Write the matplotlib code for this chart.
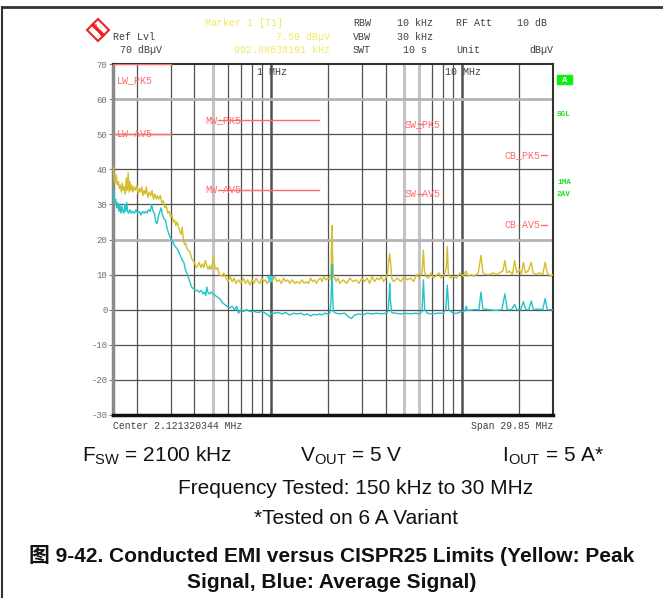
import matplotlib
matplotlib.use("Agg")
import matplotlib.pyplot as plt
from matplotlib.lines import Line2D
from matplotlib.patches import Polygon, Rectangle

plt.rcParams['axes.unicode_minus'] = False

# ---- data (MHz, dBuV) ----
peak_freq = [0.150, 0.152, 0.154, 0.156, 0.158, 0.160, 0.162, 0.164, 0.166, 0.168,
             0.170, 0.172, 0.174, 0.176, 0.178, 0.180, 0.182, 0.184, 0.186, 0.188,
             0.190, 0.193, 0.196, 0.200, 0.203, 0.206, 0.209, 0.212, 0.215, 0.218,
             0.221, 0.224, 0.228, 0.232, 0.236, 0.240, 0.244, 0.248, 0.252, 0.256,
             0.260, 0.265, 0.270, 0.275, 0.280, 0.285, 0.290, 0.295, 0.300, 0.305,
             0.310, 0.315, 0.320, 0.325, 0.330, 0.335, 0.340, 0.345, 0.350, 0.355,
             0.360, 0.365, 0.370, 0.378, 0.385, 0.392, 0.400, 0.408, 0.416, 0.424,
             0.432, 0.440, 0.448, 0.456, 0.464, 0.472, 0.480, 0.488, 0.496, 0.504,
             0.512, 0.520, 0.528, 0.540, 0.555, 0.570, 0.585, 0.600, 0.615, 0.630,
             0.645, 0.660, 0.680, 0.700, 0.720, 0.740, 0.760, 0.780, 0.800, 0.820,
             0.840, 0.860, 0.880, 0.900, 0.920, 0.940, 0.960, 0.980, 1.000, 1.020,
             1.050, 1.080, 1.110, 1.140, 1.170, 1.200, 1.230, 1.260, 1.300, 1.340,
             1.380, 1.420, 1.460, 1.500, 1.540, 1.580, 1.620, 1.660, 1.700, 1.740,
             1.780, 1.820, 1.860, 1.900, 1.950, 2.000, 2.040, 2.070, 2.090, 2.100,
             2.110, 2.130, 2.170, 2.200, 2.250, 2.300, 2.400, 2.500, 2.600, 2.700,
             2.800, 2.900, 3.000, 3.100, 3.200, 3.300, 3.400, 3.500, 3.600, 3.700,
             3.800, 3.900, 4.000, 4.100, 4.150, 4.200, 4.250, 4.300, 4.400, 4.600,
             4.800, 5.000, 5.200, 5.400, 5.600, 5.800, 6.000, 6.200, 6.300, 6.380,
             6.500, 6.700, 6.900, 7.100, 7.300, 7.600, 7.800, 8.100, 8.300, 8.400,
             8.500, 8.700, 9.000, 9.400, 9.800, 10.20, 10.50, 10.80, 11.20, 11.60,
             12.20, 12.60, 12.90, 13.40, 14.00, 14.60, 15.20, 15.80, 16.40, 16.80,
             17.20, 17.80, 18.40, 18.90, 19.40, 20.00, 20.50, 21.00, 21.50, 22.20,
             23.10, 23.60, 24.50, 25.50, 26.50, 27.30, 28.00, 29.00, 30.00]
peak_dbuv = [41.0, 37.5, 36.0, 38.5, 35.5, 36.5, 34.5, 35.5, 33.5, 36.0,
             34.0, 35.0, 33.0, 37.5, 34.0, 39.0, 33.5, 36.5, 34.0, 35.5,
             33.5, 35.0, 34.0, 35.5, 33.0, 34.5, 33.5, 35.0, 32.5, 34.0,
             33.0, 35.0, 32.0, 33.5, 32.5, 34.0, 31.5, 33.0, 31.5, 32.5,
             31.5, 32.5, 30.5, 31.0, 29.0, 29.5, 27.5, 28.0, 26.5, 27.0,
             25.0, 25.5, 24.0, 25.0, 23.5, 22.5, 21.5, 23.5, 20.0, 18.5,
             19.0, 17.5, 17.0, 16.5, 15.0, 14.0, 13.5, 12.0, 12.5, 13.5,
             12.0, 13.0, 12.0, 14.0, 12.5, 11.5, 12.5, 11.5, 13.0, 15.0,
             12.0, 11.5, 12.0, 10.0, 9.5, 10.5, 9.0, 8.0, 9.5, 8.0,
             9.0, 7.5, 8.5, 7.5, 9.0, 7.5, 8.5, 7.0, 8.5, 7.5,
             9.0, 8.0, 7.5, 9.0, 8.0, 8.5, 7.5, 8.0, 9.5, 8.0,
             9.5, 8.0, 8.5, 7.5, 9.0, 8.0, 8.5, 7.5, 8.5, 7.5,
             8.0, 7.5, 8.5, 7.5, 8.0, 7.5, 9.0, 8.0, 8.5, 7.5,
             8.5, 9.0, 8.0, 9.5, 8.5, 9.0, 8.5, 10.0, 22.0, 24.0,
             16.0, 9.5, 9.0, 8.0, 9.0, 7.5, 8.5, 7.5, 9.0, 8.0,
             8.5, 7.5, 9.0, 8.0, 9.0, 7.5, 9.5, 8.0, 9.0, 8.5,
             9.5, 8.0, 9.0, 10.5, 14.0, 16.0, 13.0, 9.0, 8.0, 9.0,
             8.0, 9.5, 8.5, 9.0, 8.0, 10.0, 9.0, 10.5, 17.0, 11.0,
             9.5, 9.0, 10.5, 9.0, 9.5, 10.5, 9.0, 10.0, 12.0, 18.0,
             10.5, 9.0, 9.5, 9.0, 10.5, 9.5, 11.0, 9.5, 10.0, 9.5,
             10.5, 15.5, 10.5, 10.0, 10.0, 10.5, 10.0, 10.5, 11.0, 14.0,
             10.5, 11.0, 10.0, 14.0, 10.5, 11.5, 10.0, 13.5, 10.5, 11.0,
             13.5, 10.5, 10.0, 10.5, 10.0, 13.5, 10.5, 9.5, 10.0]

avg_freq = [0.150, 0.151, 0.153, 0.155, 0.157, 0.159, 0.161, 0.163, 0.165, 0.167,
            0.169, 0.171, 0.173, 0.175, 0.177, 0.179, 0.181, 0.184, 0.187, 0.190,
            0.194, 0.198, 0.202, 0.206, 0.210, 0.214, 0.218, 0.222, 0.226, 0.230,
            0.235, 0.239, 0.243, 0.247, 0.251, 0.255, 0.259, 0.264, 0.268, 0.272,
            0.277, 0.282, 0.287, 0.292, 0.297, 0.302, 0.308, 0.313, 0.318, 0.323,
            0.328, 0.334, 0.340, 0.346, 0.352, 0.358, 0.364, 0.370, 0.378, 0.386,
            0.395, 0.404, 0.414, 0.424, 0.434, 0.444, 0.452, 0.458, 0.464, 0.470,
            0.478, 0.490, 0.503, 0.515, 0.530, 0.546, 0.560, 0.575, 0.590, 0.610,
            0.630, 0.650, 0.665, 0.680, 0.700, 0.720, 0.750, 0.780, 0.820, 0.860,
            0.900, 0.940, 0.970, 0.990, 1.010, 1.050, 1.100, 1.150, 1.200, 1.260,
            1.320, 1.380, 1.440, 1.500, 1.560, 1.620, 1.680, 1.740, 1.800, 1.860,
            1.920, 1.980, 2.040, 2.070, 2.090, 2.100, 2.110, 2.130, 2.200, 2.300,
            2.450, 2.550, 2.650, 2.750, 2.900, 3.050, 3.200, 3.400, 3.600, 3.800,
            4.000, 4.120, 4.180, 4.200, 4.230, 4.300, 4.500, 4.800, 5.100, 5.400,
            5.700, 6.000, 6.200, 6.300, 6.400, 6.600, 7.000, 7.500, 8.000, 8.250,
            8.400, 8.550, 9.000, 9.500, 10.00, 10.40, 10.55, 10.70, 11.50, 12.30,
            12.60, 12.90, 14.00, 15.00, 16.20, 16.80, 17.30, 18.20, 18.90, 19.40,
            20.30, 21.00, 21.60, 22.40, 23.10, 23.70, 25.00, 26.50, 27.30, 28.00,
            30.00]
avg_dbuv = [32.0, 34.0, 30.5, 31.5, 29.0, 30.5, 28.0, 30.0, 27.5, 29.5,
            28.0, 27.5, 30.0, 28.0, 30.5, 28.0, 27.5, 28.5, 27.5, 28.0,
            27.5, 28.5, 27.5, 28.0, 27.0, 28.0, 27.5, 28.0, 27.5, 28.5,
            28.0, 30.0, 28.0, 27.5, 25.0, 24.5, 26.5, 28.0, 29.0, 27.0,
            26.0, 25.5, 23.5, 22.0, 21.0, 20.0, 19.5, 18.5, 18.0, 17.5,
            17.0, 16.0, 15.0, 14.0, 13.5, 11.5, 10.5, 9.5, 8.0, 6.5,
            6.0, 5.5, 5.5, 5.0, 5.5, 4.5, 5.0, 4.0, 6.5, 5.0,
            4.5, 5.0, 4.5, 4.0, 3.5, 3.0, 2.0, 1.5, 1.0, 0.5,
            1.0, 0.0, 1.0, -1.0, 0.0, -0.5, 0.0, -0.5, -0.5, -0.8,
            -0.5, -1.0, -1.5, -2.0, -1.0, -1.0, -0.8, -1.2, -0.8, -1.5,
            -1.0, -1.2, -1.0, -1.5, -1.2, -1.8, -1.3, -1.5, -1.2, -1.5,
            -1.0, -1.2, -1.0, 2.0, 10.0, 13.0, 5.0, -0.5, -1.0, -1.2,
            -1.0, -2.0, -2.5, -1.5, -1.2, -1.5, -1.0, -1.2, -1.0, -1.2,
            -1.0, -0.5, 5.0, 7.5, 3.0, -0.8, -1.0, -1.2, -1.0, -1.2,
            -1.0, -1.2, -0.5, 8.5, 0.0, -1.0, -1.2, -1.0, -1.0, 0.0,
            7.0, 0.0, -1.0, -1.0, -0.5, -0.3, 1.0, -0.2, 0.0, 0.0,
            5.0, 0.2, 0.0, -0.2, 0.0, 4.5, 0.0, 0.0, 1.5, 0.0,
            0.0, 2.3, 0.0, 0.0, 2.5, 0.0, 0.2, 0.0, 3.2, 0.0,
            0.0]

# CISPR25 class 5 conducted limits
limit_names = ['LW_PK5', 'LW-AV5', 'MW_PK5', 'MW-AV5', 'SW_PK5', 'SW-AV5', 'CB_PK5', 'CB-AV5']
limit_start = [0.15, 0.15, 0.53, 0.53, 5.9, 5.9, 26.0, 26.0]
limit_stop = [0.30, 0.30, 1.8, 1.8, 6.2, 6.2, 28.0, 28.0]
limit_level = [70, 50, 54, 34, 53, 33, 44, 24]

marker_freq = 0.99288638191
marker_level = 7.5

grid_freqs = [0.2, 0.3, 0.4, 0.6, 0.7, 0.8, 0.9, 1, 2, 3, 4, 7, 8, 9, 10, 20]
grid_freqs_light = [0.5, 5, 6]
y_ticks = [70, 60, 50, 40, 30, 20, 10, 0, -10, -20, -30]

W, H = 663, 598
MONO = 'Liberation Mono'
DARK = '#404040'
YEL_TXT = '#eeea66'
GREEN = '#22dd22'

fig = plt.figure(figsize=(W / 100, H / 100), dpi=100)
ax = fig.add_axes([113 / W, 1 - 415 / H, 440 / W, 351 / H])


def ftext(x, y, s, **kw):
    kw.setdefault('va', 'center')
    return fig.text(x / W, 1 - y / H, s, **kw)


ax.set_xscale('log')
ax.set_xlim(0.15, 30)
ax.set_ylim(-30, 70)
ax.set_xticks([])
ax.xaxis.set_minor_locator(matplotlib.ticker.NullLocator())
ax.set_yticks(y_ticks)
ax.tick_params(axis='y', length=3, width=0.8, color='#808080', labelcolor='#707070',
               labelsize=6.5, pad=1)
for lab in ax.get_yticklabels():
    lab.set_family(MONO)

# grid
for f in grid_freqs:
    lw = 1.8 if f in (1, 10) else 0.9
    ax.axvline(f, color='#505050', lw=lw, zorder=1)
for f in grid_freqs_light:
    ax.axvline(f, color='#c4c4c4', lw=2.2, zorder=1)
for v in y_ticks[1:-1]:
    if v in (60, 20):
        ax.axhline(v, color='#b4b4b4', lw=2.0, zorder=1)
    else:
        ax.axhline(v, color='#505050', lw=0.9, zorder=1)

ax.text(0.85, 67.8, '1 MHz', family=MONO, fontsize=7.2, color=DARK, va='center', zorder=2)
ax.text(8.2, 67.8, '10 MHz', family=MONO, fontsize=7.2, color=DARK, va='center', zorder=2)

# limit lines with labels
label_x = [0.1565, 0.1565, 0.455, 0.455, 5.04, 5.04, 25.7, 25.7]
label_ha = ['left', 'left', 'left', 'left', 'left', 'left', 'right', 'right']
for i, name in enumerate(limit_names):
    ax.plot([limit_start[i], limit_stop[i]], [limit_level[i]] * 2, color='#ff6a6a', lw=1, zorder=3)
    ly = limit_level[i] if limit_level[i] < 70 else 65.5
    ax.text(label_x[i], ly, name, family=MONO, fontsize=7.2, color='#ff6a6a',
            ha=label_ha[i], va='center', zorder=3)

# traces
ax.plot(peak_freq, peak_dbuv, color='#d6bd2a', lw=1.0, zorder=4)
ax.plot(avg_freq, avg_dbuv, color='#22c4c8', lw=1.0, zorder=5)
ax.plot([marker_freq], [marker_level + 1.3], marker='v', color='#30d8e8', ms=5, zorder=6)

for side, c, w in (('left', '#8a8a8a', 2.5), ('bottom', '#111111', 2.5),
                   ('top', '#333333', 1.5), ('right', '#333333', 1.5)):
    ax.spines[side].set_color(c)
    ax.spines[side].set_linewidth(w)

# header block
ftext(205, 23, 'Marker 1 [T1]', family=MONO, fontsize=7.2, color=YEL_TXT)
ftext(330, 37, '7.50 dB\u00b5V', family=MONO, fontsize=7.2, color=YEL_TXT, ha='right')
ftext(330, 50, '992.88638191 kHz', family=MONO, fontsize=7.2, color=YEL_TXT, ha='right')
ftext(113, 37, 'Ref Lvl', family=MONO, fontsize=7.2, color=DARK)
ftext(120, 50, '70 dB\u00b5V', family=MONO, fontsize=7.2, color=DARK)
for x, y, s in ((353, 23, 'RBW'), (397, 23, '10 kHz'), (456, 23, 'RF Att'), (517, 23, '10 dB'),
                (353, 37, 'VBW'), (397, 37, '30 kHz'),
                (353, 50, 'SWT'), (403, 50, '10 s'), (456, 50, 'Unit')):
    ftext(x, y, s, family=MONO, fontsize=7.2, color=DARK)
ftext(553, 50, 'dB\u00b5V', family=MONO, fontsize=7.2, color=DARK, ha='right')

# R&S style logo
cx, cy, r = 98, 30, 11
fig.patches.append(Polygon([((cx) / W, 1 - (cy - r) / H), ((cx + r) / W, 1 - cy / H),
                            ((cx) / W, 1 - (cy + r) / H), ((cx - r) / W, 1 - cy / H)],
                           closed=True, facecolor='white', edgecolor='#ee2222', lw=1.5,
                           transform=fig.transFigure))
fig.lines.append(Line2D([(cx - 5) / W, (cx + 5) / W], [1 - (cy - 5) / H, 1 - (cy + 5) / H],
                        color='#ee2222', lw=2.5, transform=fig.transFigure))
ftext(cx - 3, cy - 4, 'R', family=MONO, fontsize=4, color='#ee2222', ha='center')
ftext(cx + 3, cy + 4, 'S', family=MONO, fontsize=4, color='#ee2222', ha='center')

# right-side status annotations
fig.patches.append(Rectangle((557 / W, 1 - 84 / H), 15 / W, 9 / H, color='#11ee11',
                             transform=fig.transFigure))
ftext(564.5, 79.5, 'A', family='DejaVu Sans', fontsize=5, color='white', weight='bold', ha='center')
for y, s in ((114, 'SGL'), (182, '1MA'), (194, '2AV')):
    ftext(557, y, s, family=MONO, fontsize=5.5, color=GREEN, weight='bold')

ftext(113, 426, 'Center 2.121320344 MHz', family=MONO, fontsize=7, color=DARK)
ftext(553, 426, 'Span 29.85 MHz', family=MONO, fontsize=7, color=DARK, ha='right')

# test conditions and caption
SANS = ['Liberation Sans', 'Noto Sans CJK SC']
ftext(82, 456, r'F$_\mathregular{SW}$ = 2100 kHz', family='Liberation Sans', fontsize=15, color='#111111')
ftext(300, 456, r'V$_\mathregular{OUT}$ = 5 V', family='Liberation Sans', fontsize=15, color='#111111')
ftext(502, 456, r'I$_\mathregular{OUT}$ = 5 A*', family='Liberation Sans', fontsize=15, color='#111111')
ftext(356, 488, 'Frequency Tested: 150 kHz to 30 MHz', family='Liberation Sans', fontsize=15,
      color='#111111', ha='center')
ftext(356, 519, '*Tested on 6 A Variant', family='Liberation Sans', fontsize=15,
      color='#111111', ha='center')
ftext(332, 556, '图 9-42. Conducted EMI versus CISPR25 Limits (Yellow: Peak', family=SANS,
      fontsize=15, weight='bold', color='#111111', ha='center')
ftext(332, 582, 'Signal, Blue: Average Signal)', family=SANS, fontsize=15, weight='bold',
      color='#111111', ha='center')

# outer frame (top and left edges)
fig.lines.append(Line2D([1.5 / W, 1], [1 - 6.5 / H, 1 - 6.5 / H], color='#333333', lw=2,
                        transform=fig.transFigure))
fig.lines.append(Line2D([1.5 / W, 1.5 / W], [0, 1 - 6.5 / H], color='#333333', lw=1.5,
                        transform=fig.transFigure))

fig.savefig('out.png', dpi=100)
